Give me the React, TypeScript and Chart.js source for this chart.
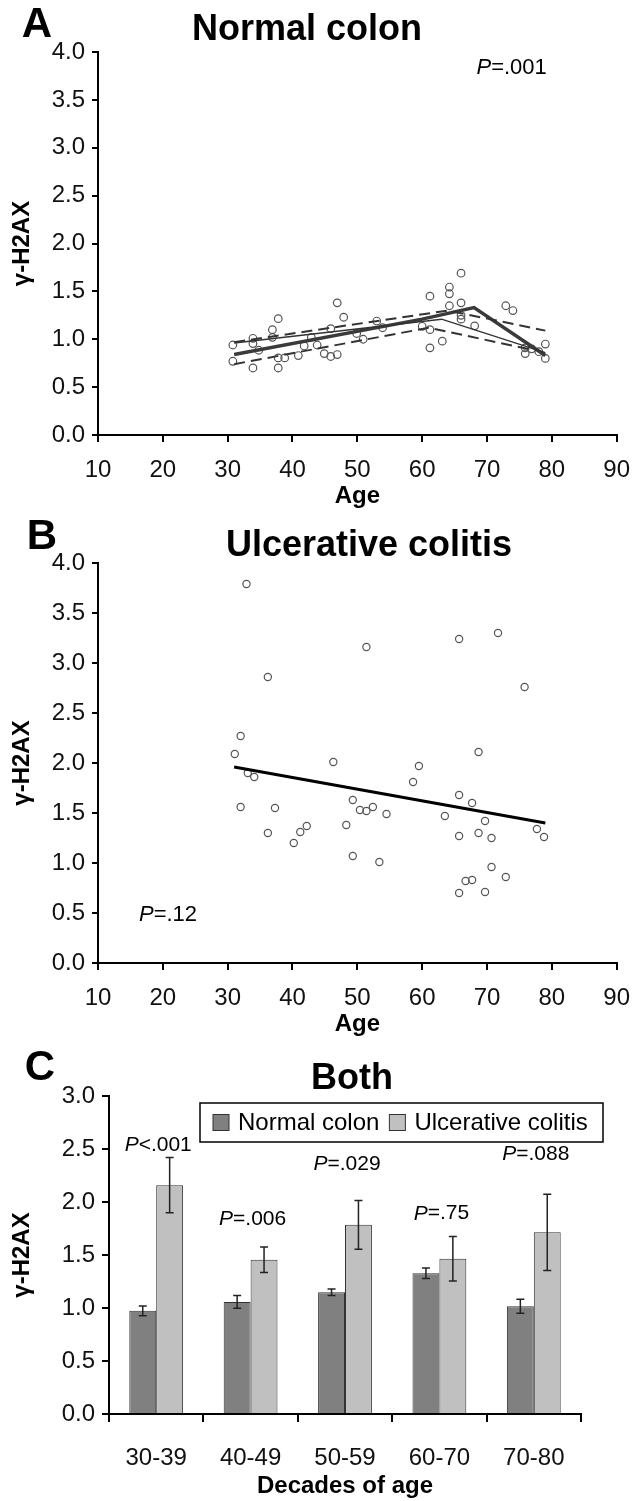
import React, { useEffect, useRef } from "react";
import { Chart, registerables } from "chart.js";

Chart.register(...registerables);

const FONT = "'Liberation Sans', Arial, sans-serif";

// ---------- Panel A: Normal colon ----------
const normalAges = [30.8, 30.8, 33.9, 33.9, 33.9, 34.8, 36.9, 36.9, 37.8, 37.8, 37.8, 38.8, 40.9, 41.8, 42.9, 43.8, 44.9, 45.9, 46.9, 45.9, 46.9, 47.9, 49.9, 50.9, 53.0, 53.9, 60.0, 61.2, 61.2, 61.2, 63.1, 64.2, 64.2, 64.2, 66.0, 66.0, 66.0, 66.0, 68.1, 72.9, 74.0, 75.9, 75.9, 76.9, 78.0, 79.0, 79.0];
const normalValues = [0.94, 0.77, 1.01, 0.955, 0.70, 0.885, 1.10, 1.02, 1.215, 0.805, 0.70, 0.805, 0.83, 0.93, 1.02, 0.94, 0.85, 0.82, 0.84, 1.11, 1.38, 1.23, 1.06, 1.0, 1.19, 1.12, 1.135, 1.10, 1.45, 0.91, 0.98, 1.545, 1.475, 1.35, 1.69, 1.38, 1.25, 1.21, 1.14, 1.35, 1.30, 0.91, 0.85, 0.90, 0.87, 0.95, 0.80];
const normalFitAges = [31, 60, 68, 79];
const normalFitValues = [0.84, 1.21, 1.33, 0.83];
const normalThinAges = [31, 63, 79];
const normalThinValues = [0.96, 1.21, 0.86];
const normalUpperAges = [31, 64, 79];
const normalUpperValues = [0.97, 1.30, 1.09];
const normalLowerAges = [31, 61, 77];
const normalLowerValues = [0.74, 1.12, 0.89];
const pA = { age: 73.8, value: 3.83, text: "=.001" };

// ---------- Panel B: Ulcerative colitis ----------
const ucAges = [32.9, 32.0, 31.1, 33.1, 34.1, 32.0, 37.3, 36.2, 41.2, 42.2, 40.2, 46.3, 49.3, 50.4, 51.4, 52.4, 54.5, 48.3, 49.3, 53.4, 58.6, 59.5, 36.2, 51.4, 65.7, 71.7, 75.8, 68.7, 65.7, 67.7, 63.5, 69.7, 65.7, 68.7, 70.7, 77.7, 78.8, 70.7, 72.9, 66.7, 67.7, 65.7, 69.7];
const ucValues = [3.79, 2.27, 2.09, 1.90, 1.86, 1.56, 1.55, 1.30, 1.31, 1.37, 1.20, 2.01, 1.63, 1.53, 1.52, 1.56, 1.49, 1.38, 1.07, 1.01, 1.81, 1.97, 2.86, 3.16, 3.24, 3.30, 2.76, 2.11, 1.68, 1.60, 1.47, 1.42, 1.27, 1.30, 1.25, 1.34, 1.26, 0.96, 0.86, 0.82, 0.83, 0.70, 0.71];
const ucFitAges = [31, 79];
const ucFitValues = [1.96, 1.40];
const pB = { age: 20.8, value: 0.48, text: "=.12" };

// ---------- Panel C: Both ----------
const decades = ["30-39", "40-49", "50-59", "60-70", "70-80"];
const normalMeans = [0.973, 1.057, 1.149, 1.328, 1.017];
const normalErr = [0.047, 0.06, 0.03, 0.05, 0.066];
const ucMeans = [2.159, 1.456, 1.785, 1.465, 1.714];
const ucErr = [0.26, 0.12, 0.23, 0.21, 0.36];
const pTexts = ["<.001", "=.006", "=.029", "=.75", "=.088"];
const pValuesY = [2.54, 1.84, 2.36, 1.89, 2.45];

const zip = (xs: number[], ys: number[]) => xs.map((x, i) => ({ x, y: ys[i] }));

function drawText(ctx: CanvasRenderingContext2D, text: string, x: number, y: number, font: string) {
  ctx.font = font;
  ctx.fillStyle = "#000";
  ctx.textAlign = "center";
  ctx.textBaseline = "middle";
  ctx.fillText(text, x, y);
}

function drawP(ctx: CanvasRenderingContext2D, rest: string, cx: number, cy: number, size: number) {
  const fi = `italic ${size}px ${FONT}`;
  const fr = `${size}px ${FONT}`;
  ctx.font = fi;
  const wp = ctx.measureText("P").width;
  ctx.font = fr;
  const wr = ctx.measureText(rest).width;
  const x0 = cx - (wp + wr) / 2;
  ctx.textAlign = "left";
  ctx.textBaseline = "middle";
  ctx.fillStyle = "#000";
  ctx.font = fi;
  ctx.fillText("P", x0, cy);
  ctx.font = fr;
  ctx.fillText(rest, x0 + wp, cy);
}

function axisX(title: string, height: number, extra: any = {}) {
  return {
    grid: { drawOnChartArea: false, drawTicks: true, tickLength: 7, color: "#000", lineWidth: 2 },
    border: { display: true, color: "#000", width: 2 },
    ticks: { font: { size: 24, family: FONT }, color: "#111", padding: 14, maxRotation: 0 },
    title: { display: true, text: title, font: { size: 24, weight: "bold", family: FONT }, color: "#000", padding: { top: 0, bottom: 4 } },
    afterFit: (s: any) => { s.height = height; },
    ...extra,
  };
}

function axisY(max: number, width: number) {
  return {
    min: 0,
    max,
    grid: { drawOnChartArea: false, drawTicks: true, tickLength: 6, color: "#000", lineWidth: 2 },
    border: { display: true, color: "#000", width: 2 },
    ticks: { stepSize: 0.5, font: { size: 24, family: FONT }, color: "#111", padding: 7, callback: (v: any) => Number(v).toFixed(1) },
    title: { display: true, text: "γ-H2AX", font: { size: 24, weight: "bold", family: FONT }, color: "#000", padding: { top: 8, bottom: 0 } },
    afterFit: (s: any) => { s.width = width; },
  };
}

function scatterConfig(opts: {
  ages: number[]; values: number[]; lines: any[]; letter: string; letterPos: [number, number];
  title: string; titlePos: [number, number]; p: { age: number; value: number; text: string };
  padTop: number; xHeight: number; pointR: number;
}) {
  const datasets: any[] = [
    ...opts.lines,
    {
      label: "points",
      data: zip(opts.ages, opts.values),
      showLine: false,
      pointRadius: opts.pointR,
      pointBackgroundColor: "rgba(255,255,255,0)",
      pointBorderColor: "#555",
      pointBorderWidth: 1.2,
    },
  ];
  return {
    type: "scatter",
    data: { datasets },
    options: {
      responsive: false,
      animation: false,
      layout: { padding: { top: opts.padTop, right: 27, left: 0, bottom: 0 } },
      plugins: { legend: { display: false }, tooltip: { enabled: false } },
      scales: {
        x: { type: "linear", min: 10, max: 90, ...axisX("Age", opts.xHeight), ticks: { stepSize: 10, font: { size: 24, family: FONT }, color: "#111", padding: 14, maxRotation: 0 } },
        y: axisY(4, 98),
      },
    },
    plugins: [
      {
        id: "texts",
        afterDraw: (chart: any) => {
          const ctx = chart.ctx;
          ctx.save();
          drawText(ctx, opts.letter, opts.letterPos[0], opts.letterPos[1], `bold 42px ${FONT}`);
          drawText(ctx, opts.title, opts.titlePos[0], opts.titlePos[1], `bold 36px ${FONT}`);
          drawP(ctx, opts.p.text, chart.scales.x.getPixelForValue(opts.p.age), chart.scales.y.getPixelForValue(opts.p.value), 22);
          ctx.restore();
        },
      },
    ],
  };
}

function lineDs(ages: number[], values: number[], color: string, width: number, dash: number[] = []) {
  return {
    data: zip(ages, values),
    showLine: true,
    borderColor: color,
    borderWidth: width,
    borderDash: dash,
    pointRadius: 0,
    fill: false,
    tension: 0,
  };
}

export default function App() {
  const refA = useRef<HTMLCanvasElement>(null);
  const refB = useRef<HTMLCanvasElement>(null);
  const refC = useRef<HTMLCanvasElement>(null);

  useEffect(() => {
    Chart.defaults.font.family = FONT;
    Chart.defaults.color = "#000";

    const chartA = new Chart(refA.current as any, scatterConfig({
      ages: normalAges,
      values: normalValues,
      lines: [
        lineDs(normalUpperAges, normalUpperValues, "#333", 2, [11, 6]),
        lineDs(normalLowerAges, normalLowerValues, "#333", 2, [11, 6]),
        lineDs(normalThinAges, normalThinValues, "#333", 1.5),
        lineDs(normalFitAges, normalFitValues, "#3a3a3a", 3.5),
      ],
      letter: "A",
      letterPos: [37, 25],
      title: "Normal colon",
      titlePos: [307, 30],
      p: pA,
      padTop: 52,
      xHeight: 80,
      pointR: 3.8,
    }) as any);

    const chartB = new Chart(refB.current as any, scatterConfig({
      ages: ucAges,
      values: ucValues,
      lines: [lineDs(ucFitAges, ucFitValues, "#000", 3)],
      letter: "B",
      letterPos: [42, 22],
      title: "Ulcerative colitis",
      titlePos: [369, 31],
      p: pB,
      padTop: 48,
      xHeight: 80,
      pointR: 3.6,
    }) as any);

    const errs = [normalErr, ucErr];
    const chartC = new Chart(refC.current as any, {
      type: "bar",
      data: {
        labels: decades,
        datasets: [
          { label: "Normal colon", data: normalMeans, backgroundColor: "#808080", borderColor: "#333", borderWidth: 1 },
          { label: "Ulcerative colitis", data: ucMeans, backgroundColor: "#c0c0c0", borderColor: "#333", borderWidth: 1 },
        ],
      },
      options: {
        responsive: false,
        animation: false,
        datasets: { bar: { categoryPercentage: 0.57, barPercentage: 1.0 } },
        layout: { padding: { top: 53, right: 63, left: 0, bottom: 0 } },
        plugins: { legend: { display: false }, tooltip: { enabled: false } },
        scales: {
          x: {
            ...axisX("Decades of age", 87),
            grid: { offset: true, drawOnChartArea: false, drawTicks: true, tickLength: 8, color: "#000", lineWidth: 2 },
            ticks: { font: { size: 24, family: FONT }, color: "#111", padding: 22, maxRotation: 0 },
            title: { display: true, text: "Decades of age", font: { size: 24, weight: "bold", family: FONT }, color: "#000", padding: { top: 0, bottom: 0 } },
          },
          y: { ...axisY(3, 109), grid: { drawOnChartArea: false, drawTicks: true, tickLength: 7, color: "#000", lineWidth: 2 } },
        },
      },
      plugins: [
        {
          id: "errorbars",
          afterDatasetsDraw: (chart: any) => {
            const ctx = chart.ctx;
            const y = chart.scales.y;
            ctx.save();
            ctx.strokeStyle = "#222";
            ctx.lineWidth = 1.5;
            chart.data.datasets.forEach((ds: any, di: number) => {
              const meta = chart.getDatasetMeta(di);
              meta.data.forEach((bar: any, i: number) => {
                const m = ds.data[i];
                const e = errs[di][i];
                const yt = y.getPixelForValue(m + e);
                const yb = y.getPixelForValue(m - e);
                ctx.beginPath();
                ctx.moveTo(bar.x, yt);
                ctx.lineTo(bar.x, yb);
                ctx.moveTo(bar.x - 4, yt);
                ctx.lineTo(bar.x + 4, yt);
                ctx.moveTo(bar.x - 4, yb);
                ctx.lineTo(bar.x + 4, yb);
                ctx.stroke();
              });
            });
            ctx.restore();
          },
        },
        {
          id: "texts",
          afterDraw: (chart: any) => {
            const ctx = chart.ctx;
            ctx.save();
            drawText(ctx, "C", 40, 25, `bold 42px ${FONT}`);
            drawText(ctx, "Both", 352, 36, `bold 36px ${FONT}`);
            const xs = chart.scales.x;
            const ys = chart.scales.y;
            pTexts.forEach((t, i) => {
              drawP(ctx, t, xs.getPixelForValue(i) + 2, ys.getPixelForValue(pValuesY[i]), 21);
            });
            // legend
            const lx = 200, ly = 60, lw = 403, lh = 39;
            ctx.fillStyle = "#fff";
            ctx.fillRect(lx, ly, lw, lh);
            ctx.strokeStyle = "#000";
            ctx.lineWidth = 1.5;
            ctx.strokeRect(lx, ly, lw, lh);
            let cx = lx + 13;
            const cy = ly + lh / 2;
            chart.data.datasets.forEach((ds: any) => {
              ctx.fillStyle = ds.backgroundColor;
              ctx.fillRect(cx, cy - 8, 16, 16);
              ctx.strokeStyle = "#333";
              ctx.lineWidth = 1;
              ctx.strokeRect(cx, cy - 8, 16, 16);
              cx += 25;
              ctx.font = `24px ${FONT}`;
              ctx.fillStyle = "#000";
              ctx.textAlign = "left";
              ctx.textBaseline = "middle";
              ctx.fillText(ds.label, cx, cy + 1);
              cx += ctx.measureText(ds.label).width + 10;
            });
            ctx.restore();
          },
        },
      ],
    } as any);

    return () => {
      chartA.destroy();
      chartB.destroy();
      chartC.destroy();
    };
  }, []);

  return (
    <div style={{ position: "absolute", left: 0, top: 0, width: 644, height: 1501, background: "#fff" }}>
      <canvas ref={refA} width={644} height={515} style={{ position: "absolute", left: 0, top: 0, width: 644, height: 515 }} />
      <canvas ref={refB} width={644} height={528} style={{ position: "absolute", left: 0, top: 515, width: 644, height: 528 }} />
      <canvas ref={refC} width={644} height={458} style={{ position: "absolute", left: 0, top: 1043, width: 644, height: 458 }} />
    </div>
  );
}
